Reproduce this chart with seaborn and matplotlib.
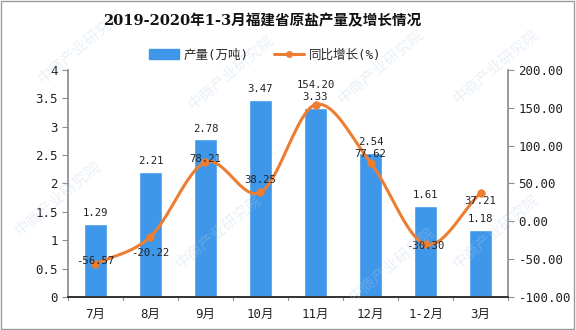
import numpy as np
import pandas as pd
import matplotlib
matplotlib.use("Agg")
import matplotlib.pyplot as plt
import seaborn as sns
from matplotlib.lines import Line2D
from matplotlib.patches import Patch, Rectangle

months = ["7月", "8月", "9月", "10月", "11月", "12月", "1-2月", "3月"]
output = [1.29, 2.21, 2.78, 3.47, 3.33, 2.54, 1.61, 1.18]
growth = [-56.57, -20.22, 78.21, 38.25, 154.20, 77.62, -30.30, 37.21]

BAR = "#3f97e9"
LINE = "#ed7d31"

sns.set_theme(style="white")
plt.rcParams["font.family"] = ["DejaVu Sans Mono", "Noto Sans CJK SC"]
plt.rcParams["axes.unicode_minus"] = False

fig = plt.figure(figsize=(5.76, 3.3), dpi=100)
ax = fig.add_axes([0.118, 0.10, 0.764, 0.688])

df = pd.DataFrame({"month": months, "output": output, "growth": growth})
sns.barplot(data=df, x="month", y="output", color=BAR, width=0.42,
            saturation=1, ax=ax, zorder=2)
ax.set_ylim(0, 4)
ax.set_xlim(-0.5, len(months) - 0.5)
ax.set_yticks(np.arange(0, 4.01, 0.5))
ax.set_yticklabels(["0", "0.5", "1", "1.5", "2", "2.5", "3", "3.5", "4"])
ax.set_xlabel("")
ax.set_ylabel("")

ax2 = ax.twinx()
ax2.set_ylim(-100, 200)
ax2.set_yticks(np.arange(-100, 201, 50))
ax2.set_yticklabels([f"{v:.2f}" for v in np.arange(-100, 201, 50)])

# Smooth curve through the growth points (Catmull-Rom spline)
xs = np.arange(len(growth), dtype=float)
ys = np.array(growth, dtype=float)
px = np.concatenate([[2 * xs[0] - xs[1]], xs, [2 * xs[-1] - xs[-2]]])
py = np.concatenate([[2 * ys[0] - ys[1]], ys, [2 * ys[-1] - ys[-2]]])
cx, cy = [], []
for i in range(1, len(px) - 2):
    t = np.linspace(0, 1, 30)
    for arr, out in ((px, cx), (py, cy)):
        p0, p1, p2, p3 = arr[i - 1], arr[i], arr[i + 1], arr[i + 2]
        out.extend(0.5 * ((2 * p1) + (-p0 + p2) * t
                          + (2 * p0 - 5 * p1 + 4 * p2 - p3) * t ** 2
                          + (-p0 + 3 * p1 - 3 * p2 + p3) * t ** 3))
sns.lineplot(x=cx, y=cy, color=LINE, linewidth=2.2, ax=ax2, zorder=3,
             estimator=None, sort=False)
sns.scatterplot(x=xs, y=ys, color=LINE, s=30, edgecolor=LINE, ax=ax2, zorder=4)

# Spines and ticks
for a in (ax, ax2):
    for s in ("top", "left", "right"):
        a.spines[s].set_visible(False)
    a.tick_params(axis="both", colors="#222222", labelsize=9, length=4,
                  width=0.8)
ax.spines["left"].set_visible(True)
ax2.spines["right"].set_visible(True)
ax.spines["left"].set_color("#8c8c8c")
ax2.spines["right"].set_color("#8c8c8c")
ax.spines["bottom"].set_color("#8c8c8c")
ax.tick_params(axis="y", colors="#8c8c8c", labelcolor="#222222", direction="out", left=True)
ax2.tick_params(axis="y", colors="#8c8c8c", labelcolor="#222222", direction="out", right=True)
ax.set_xticks(np.arange(len(months)))
ax.set_xticklabels(months, fontsize=9)
ax.tick_params(axis="x", length=0, pad=8)
for b in np.arange(-0.5, len(months), 1.0):
    ax.plot([b, b], [0, -0.06], color="#8c8c8c", lw=0.8, clip_on=False,
            transform=ax.transData)
ax.set_xlim(-0.5, len(months) - 0.5)
ax.set_ylim(0, 4)
ax2.grid(False)
ax.grid(False)

# Value labels on bars
for i, v in enumerate(output):
    ax.text(i, v + 0.1, f"{v:.2f}", ha="center", va="bottom", fontsize=7.7,
            color="#222222", zorder=5)

# Value labels on line points (offset in points)
offsets = [(0, 2), (0, -12), (0, 2), (0, 9), (0, 14), (0, 6), (0, -1), (0, -6)]
for i, (g, (ox, oy)) in enumerate(zip(growth, offsets)):
    ax2.annotate(f"{g:.2f}", (i, g), xytext=(ox, oy), textcoords="offset points",
                 ha="center", va="center", fontsize=7.7, color="#222222", zorder=6)

# Title and legend
fig.text(0.455, 0.935, "2019-2020年1-3月福建省原盐产量及增长情况", ha="center",
         va="center", fontsize=10.5, fontweight="bold", color="#111111",
         family=["DejaVu Serif", "Noto Sans CJK SC"])
handles = [Patch(facecolor=BAR, edgecolor=BAR),
           Line2D([0], [0], color=LINE, lw=2.2, marker="o", markersize=4)]
fig.legend(handles, ["产量(万吨)", "同比增长(%)"], loc="center",
           bbox_to_anchor=(0.46, 0.833), ncol=2, frameon=False, fontsize=9,
           handlelength=2.4, handleheight=0.8, columnspacing=2.0,
           handletextpad=0.4)

# Faint watermark
for (wx, wy) in [(0.14, 0.86), (0.40, 0.78), (0.66, 0.8), (0.86, 0.8),
                 (0.10, 0.40), (0.38, 0.3), (0.68, 0.2), (0.86, 0.3)]:
    fig.text(wx, wy, "中商产业研究院", rotation=40, fontsize=11, color="#b9cfe3",
             alpha=0.3, ha="center", va="center", zorder=0,
             family=["Noto Sans CJK SC"])

fig.patches.append(Rectangle((0.002, 0.003), 0.995, 0.994, transform=fig.transFigure,
                             fill=False, edgecolor="#9a9a9a", lw=1.0))

fig.savefig("out.png", dpi=100, facecolor="white")
